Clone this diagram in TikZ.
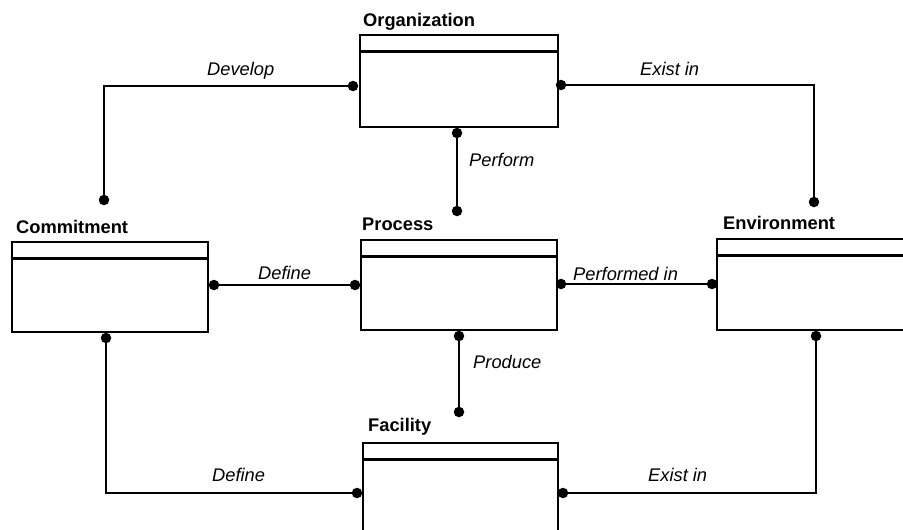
\documentclass[tikz,border=0pt]{standalone}
\usepackage{fontspec}
\setmainfont{Liberation Sans}
\usetikzlibrary{calc}
\begin{document}
\begin{tikzpicture}[x=1pt,y=-1pt,
  entity/.style={draw,line width=2.8pt,rectangle,inner sep=0pt},
  header/.style={line width=2.5pt},
  conn/.style={line width=2.6pt},
  dot/.style={circle,fill,inner sep=0pt,minimum size=10.5pt},
  ename/.style={font=\fontsize{18.3}{20}\selectfont\bfseries,inner sep=0pt,anchor=base west},
  rname/.style={font=\fontsize{18.3}{20}\selectfont\itshape,inner sep=0pt,anchor=base west}]
\useasboundingbox (0,0) rectangle (903,530);
\clip (0,0) rectangle (903,530);
% entities
\node[entity,minimum width=198pt,minimum height=92pt] (org) at (459,81) {};
\node[entity,minimum width=196pt,minimum height=90pt] (proc) at (459,285) {};
\node[entity,minimum width=196pt,minimum height=90pt] (com) at (110,287) {};
\node[entity,minimum width=198pt,minimum height=91pt] (env) at (816,284.5) {};
\node[entity,minimum width=195pt,minimum height=100pt] (fac) at (460.5,493) {};
\foreach \n in {org,proc,com,env,fac}
  \draw[header] ($(\n.north west)+(0,18)$) -- ($(\n.north east)+(0,18)$);
% entity names
\node[ename] (norg) at (363,27) {Organization};
\node[ename] (nproc) at (362,230) {Process};
\node[ename] (ncom) at (16,233) {Commitment};
\node[ename] (nenv) at (723,229) {Environment};
\node[ename] (nfac) at (368,431) {Facility};
% dots
\node[dot] (orgL) at (353,86) {};
\node[dot] (orgR) at (561,85) {};
\node[dot] (orgB) at (457,133) {};
\node[dot] (comT) at (104,200) {};
\node[dot] (comR) at (214,285) {};
\node[dot] (comB) at (106,338) {};
\node[dot] (procT) at (457,211) {};
\node[dot] (procL) at (355,285) {};
\node[dot] (procR) at (561,284) {};
\node[dot] (procB) at (459,336) {};
\node[dot] (envT) at (814,202) {};
\node[dot] (envL) at (712,284) {};
\node[dot] (envB) at (816,336) {};
\node[dot] (facT) at (459,412) {};
\node[dot] (facL) at (357,493) {};
\node[dot] (facR) at (563,493) {};
% connectors
\draw[conn] (orgL) -| (comT);
\draw[conn] (orgR) -| (envT);
\draw[conn] (orgB) -- (procT);
\draw[conn] (comR) -- (procL);
\draw[conn] (procR) -- (envL);
\draw[conn] (procB) -- (facT);
\draw[conn] (comB) |- (facL);
\draw[conn] (envB) |- (facR);
% relationship names
\node[rname] (lDev) at (207,75) {Develop};
\node[rname] (lEx1) at (640,75) {Exist in};
\node[rname] (lPerf) at (469,166) {Perform};
\node[rname] (lDef1) at (258,279) {Define};
\node[rname] (lPin) at (573,280) {Performed in};
\node[rname] (lProd) at (473,368) {Produce};
\node[rname] (lDef2) at (212,481) {Define};
\node[rname] (lEx2) at (648,481) {Exist in};
\end{tikzpicture}
\end{document}
